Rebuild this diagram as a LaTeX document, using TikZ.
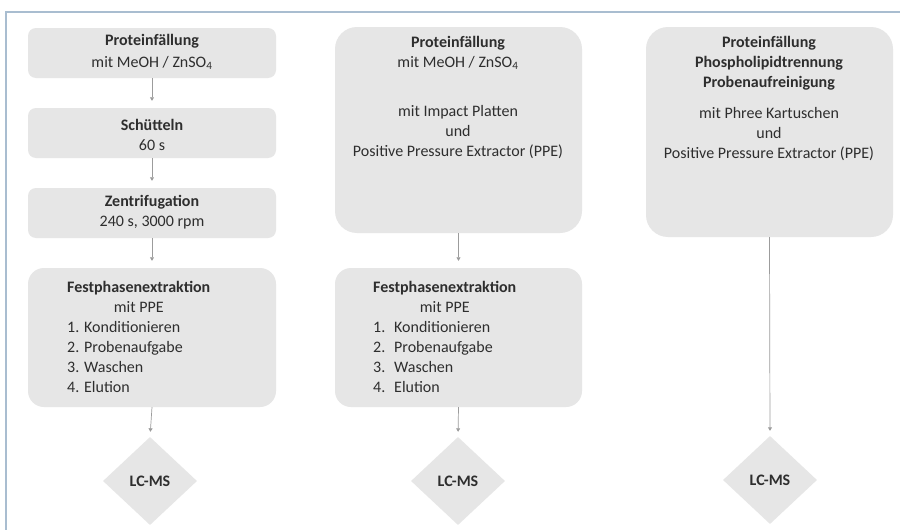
\documentclass[tikz,border=0pt]{standalone}
\usepackage{fontspec}
\setmainfont{Carlito}
\usetikzlibrary{shapes.geometric,arrows.meta}
\definecolor{boxgray}{HTML}{E6E6E6}
\definecolor{txtgray}{HTML}{2E2E2E}
\definecolor{arrgray}{HTML}{9C9C9C}
\definecolor{framecol}{HTML}{A9BDD0}
\begin{document}
\begin{tikzpicture}[x=1pt,y=-1pt,
  box/.style={draw=none,fill=boxgray,rectangle,inner sep=0pt},
  txt/.style={text=txtgray,align=center,inner sep=0pt,font=\fontsize{16}{20}\selectfont},
  lcms/.style={diamond,draw=none,fill=boxgray,inner sep=0pt,minimum width=94pt,minimum height=88pt,text=txtgray,font=\fontsize{16}{20}\selectfont\bfseries},
  flow/.style={draw=arrgray,line width=0.7pt,-{Triangle[length=3.5pt,width=4pt]},shorten >=7pt}
]
\useasboundingbox (0,0) rectangle (900,530);
\fill[white] (0,0) rectangle (900,530);
% frame
\coordinate (fr1) at (900,12);
\coordinate (fr2) at (6,12);
\coordinate (fr3) at (6,530);
\draw[framecol,line width=1.5pt] (fr1) -- (fr2) -- (fr3);

% ---------- column 1 ----------
\node[box,rounded corners=8pt,minimum width=248pt,minimum height=50pt] (a1) at (152,53) {};
\node[box,rounded corners=8pt,minimum width=248pt,minimum height=50pt] (a2) at (152,133) {};
\node[box,rounded corners=8pt,minimum width=248pt,minimum height=50pt] (a3) at (152,213) {};
\node[box,rounded corners=16pt,minimum width=248pt,minimum height=139pt] (a4) at (152,337.5) {};
\node[lcms] (a5) at (150,481) {LC-MS};

\node[txt] (ta1) at (152,52) {\textbf{Proteinfällung}\\[2pt]mit MeOH / ZnSO\textsubscript{4}};
\node[txt] (ta2) at (152,134.5) {\textbf{Schütteln}\\60 s};
\node[txt] (ta3) at (152,212.5) {\textbf{Zentrifugation}\\240 s, 3000 rpm};
\node[txt,anchor=north west] (ta4) at (67,278) {\begin{tabular}{@{}l@{}}
\textbf{Festphasenextraktion}\\
\multicolumn{1}{@{}c@{}}{mit PPE}\\
1. Konditionieren\\
2. Probenaufgabe\\
3. Waschen\\
4. Elution
\end{tabular}};

\draw[flow] (a1.south) -- (a2.north);
\draw[flow] (a2.south) -- (a3.north);
\draw[flow] (a3.south) -- (a4.north);
\draw[flow,shorten >=5pt] (a4.south) -- (a5.north);

% ---------- column 2 ----------
\node[box,rounded corners=22pt,minimum width=247pt,minimum height=206pt] (b1) at (458.5,130) {};
\node[box,rounded corners=16pt,minimum width=247pt,minimum height=139pt] (b2) at (458.5,337.5) {};
\node[lcms] (b3) at (458,481) {LC-MS};

\node[txt] (tb1) at (458,53) {\textbf{Proteinfällung}\\mit MeOH / ZnSO\textsubscript{4}};
\node[txt] (tb2) at (458,132.5) {mit Impact Platten\\und\\Positive Pressure Extractor (PPE)};
\node[txt,anchor=north west] (tb3) at (373,278) {\begin{tabular}{@{}l@{}}
\textbf{Festphasenextraktion}\\
\multicolumn{1}{@{}c@{}}{mit PPE}\\
\makebox[21pt][l]{1.}Konditionieren\\
\makebox[21pt][l]{2.}Probenaufgabe\\
\makebox[21pt][l]{3.}Waschen\\
\makebox[21pt][l]{4.}Elution
\end{tabular}};

\draw[flow] (b1.south) -- (b2.north);
\draw[flow,shorten >=5pt] (b2.south) -- (b3.north);

% ---------- column 3 ----------
\node[box,rounded corners=22pt,minimum width=247pt,minimum height=210pt] (c1) at (769.5,132) {};
\node[lcms] (c2) at (770,480) {LC-MS};

\node[txt] (tc1) at (769,63) {\textbf{Proteinfällung}\\\textbf{Phospholipidtrennung}\\\textbf{Probenaufreinigung}};
\node[txt] (tc2) at (769,134) {mit Phree Kartuschen\\und\\Positive Pressure Extractor (PPE)};

\draw[flow,shorten >=5pt] (c1.south) -- (c2.north);
\end{tikzpicture}
\end{document}
